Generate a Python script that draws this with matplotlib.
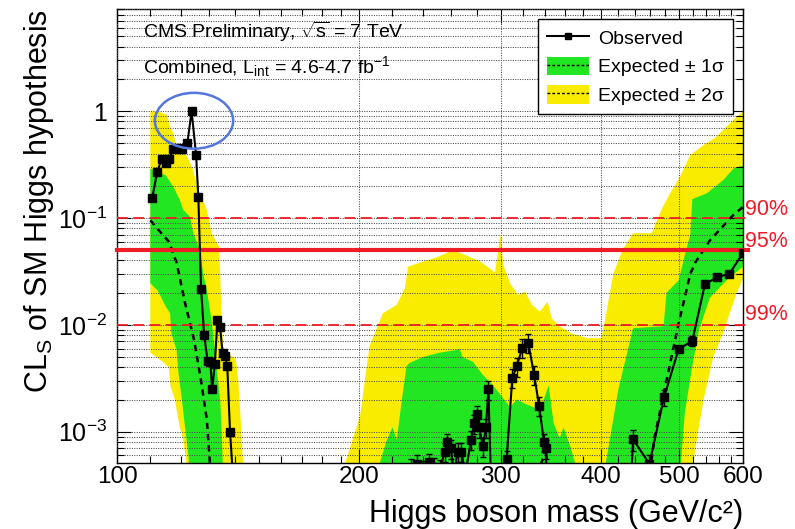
import numpy as np
import matplotlib
matplotlib.use('Agg')
import matplotlib.pyplot as plt
from matplotlib.lines import Line2D
from matplotlib.patches import Patch, Ellipse
from matplotlib.ticker import FixedLocator, NullFormatter, LogLocator, FuncFormatter

plt.rcParams['font.family'] = ['Liberation Sans', 'DejaVu Sans']
plt.rcParams['mathtext.fontset'] = 'custom'
plt.rcParams['mathtext.rm'] = 'Liberation Sans'
plt.rcParams['mathtext.it'] = 'Liberation Sans:italic'
plt.rcParams['mathtext.bf'] = 'Liberation Sans:bold'
plt.rcParams['mathtext.default'] = 'regular'

# ---------------- data ----------------
# observed CLs
m_obs = [110.6, 112.2, 113.7, 115.0, 116.0, 117.5, 119.0, 120.3, 122.3, 123.8, 125.4, 126.2,
         127.2, 128.3, 129.6, 130.6, 131.3, 132.3, 133.3, 134.3, 135.3, 136.3, 137.1, 138.2, 141.0,
         228.0, 232.0, 236.0, 240.0, 244.0, 248.0, 252.0, 255.5, 257.5, 260.0, 262.5, 265.0, 268.0,
         271.0, 275.5, 278.0, 280.0, 282.0, 285.0, 287.5, 289.5, 293.0, 302.0, 305.0, 310.0, 314.0,
         319.0, 324.5, 330.0, 334.7, 339.5, 341.0, 345.0,
         432.0, 438.0, 459.0, 478.6, 499.0, 519.0, 538.0, 557.5, 577.0, 600.0]
cls_obs = [0.153, 0.271, 0.36, 0.33, 0.36, 0.438, 0.45, 0.438, 0.50, 1.0, 0.388, 0.158,
           0.0217, 0.0081, 0.0046, 0.0045, 0.0025, 0.0043, 0.011, 0.0096, 0.0054, 0.0051, 0.0041, 0.00099, 1e-4,
           1e-4, 4.6e-4, 5.0e-4, 4.4e-4, 5.2e-4, 4.7e-4, 4.5e-4, 6.5e-4, 8.0e-4, 7.0e-4, 4.0e-4, 6.5e-4, 6.5e-4,
           4.0e-4, 8.4e-4, 1.2e-3, 1.45e-3, 1.1e-3, 7.3e-4, 1.1e-3, 2.5e-3, 1e-4, 1e-4, 5.5e-4, 3.2e-3, 4.1e-3,
           6.1e-3, 6.8e-3, 3.4e-3, 1.75e-3, 8.0e-4, 7.0e-4, 1e-4,
           1e-4, 8.5e-4, 5.0e-4, 2.1e-3, 5.9e-3, 7.1e-3, 0.024, 0.028, 0.030, 0.047]
err_obs = [0.0] * 25 + [0.2] * 33 + [0.0, 0.22, 0.2, 0.18, 0.06, 0.1, 0.05, 0.04, 0.05, 0.03]

# expected median
m_exp = [110, 113, 116, 118.6, 121.5, 124.7, 127.2, 129.3, 130.5, 132,
         225, 232, 238, 244, 250, 256, 330, 338, 341, 344, 350,
         455, 461, 466, 482, 499, 516, 523, 546, 584, 600]
cls_exp = [0.095, 0.075, 0.06, 0.038, 0.016, 0.0072, 0.003, 0.0013, 5e-4, 2e-4,
           3e-4, 4.8e-4, 4.2e-4, 5.0e-4, 4.5e-4, 3e-4, 3e-4, 5.5e-4, 7e-4, 4e-4, 2e-4,
           2e-4, 5e-4, 9e-4, 0.003, 0.0103, 0.03, 0.038, 0.062, 0.107, 0.127]

# +/- 2 sigma band edges
m_2s_up = [110, 113, 115.5, 116.4, 117.5, 118.6, 121.8, 124, 126.2, 129.3, 131.1, 133.9, 134.3,
           134.9, 135.5, 136.8, 140.5, 141.5, 142.2, 143.6, 144.5, 189, 191, 192, 200.5, 206, 214,
           222.7, 228, 230, 240, 250, 262, 267, 271, 283, 295, 299, 300, 302, 308, 315, 321.5, 328,
           335.6, 343, 347, 355, 366, 384, 400, 405, 410, 414, 425, 438, 462, 475, 487, 501, 516,
           536, 556, 578, 600]
cls_2s_up = [1.0, 0.98, 0.92, 0.71, 0.62, 0.46, 0.39, 0.30, 0.183, 0.119, 0.072, 0.054, 0.033,
             0.012, 0.0063, 0.0055, 0.0048, 0.003, 0.0017, 4.6e-4, 1e-4, 1e-4, 4e-4, 5e-4, 0.0014, 0.0063, 0.0128,
             0.0154, 0.022, 0.035, 0.039, 0.043, 0.05, 0.047, 0.045, 0.039, 0.031, 0.062, 0.07, 0.037, 0.0245, 0.019, 0.0205, 0.0154,
             0.0133, 0.0165, 0.0115, 0.0097, 0.0084, 0.0075, 0.0075, 0.012, 0.02, 0.03, 0.05, 0.072, 0.072, 0.119, 0.17, 0.243, 0.388,
             0.48, 0.575, 0.77, 1.0]
m_2s_lo = [110, 114, 116, 116.5, 118, 119.7, 120.9, 122.5, 124, 515, 518, 525, 536, 551, 567, 588, 600]
cls_2s_lo = [0.0055, 0.0045, 0.004, 0.0027, 0.002, 0.0011, 8.4e-4, 4e-4, 1e-5, 1e-5, 4e-4, 8e-4, 0.002,
             0.005, 0.0085, 0.019, 0.027]

# +/- 1 sigma band edges
m_1s_up = [110, 115, 117.5, 119.7, 120.9, 123.2, 124.4, 126.8, 128, 129.3, 131.1, 132.6, 134.4, 135,
           135.5, 136.5, 210, 212, 216, 220, 222.7, 226, 229, 231, 240, 252, 264, 266.5, 269, 277, 285,
           293.6, 308, 314, 323, 335.6, 344, 349, 355, 359, 366, 370, 375, 380, 402, 404, 420, 438, 478,
           482, 499, 508, 516, 519, 541, 567, 584, 600]
cls_1s_up = [0.29, 0.25, 0.196, 0.147, 0.119, 0.103, 0.072, 0.05, 0.03, 0.0213, 0.011, 0.005, 0.0019, 9e-4,
             4e-4, 1e-4, 1e-4, 5e-4, 8e-4, 0.0011, 8.4e-4, 0.002, 0.0041, 0.0044, 0.005, 0.0055, 0.0058, 0.006, 0.005, 0.0045, 0.0034,
             0.0027, 0.0017, 0.002, 0.0018, 0.0016, 0.0027, 0.0012, 8.7e-4, 0.0011, 7.3e-4, 5.5e-4, 4e-4, 1e-4, 1e-4, 4.5e-4, 0.0025, 0.0093, 0.0097,
             0.02, 0.026, 0.045, 0.07, 0.15, 0.17, 0.226, 0.29, 0.31]
m_1s_lo = [110, 112.3, 115, 116.4, 116.8, 118.6, 119.2, 120.3, 121.5, 122.6, 123.5, 500, 501, 508, 518,
           529, 546, 575, 600]
cls_1s_lo = [0.0245, 0.021, 0.0148, 0.0128, 0.0084, 0.0058, 0.0036, 0.0021, 0.0011, 6.3e-4, 3e-4, 1e-5,
             4e-4, 0.0015, 0.0038, 0.009, 0.018, 0.027, 0.035]

cl_levels = [0.1, 0.05, 0.01]
cl_labels = ['90%', '95%', '99%']

x_ticks = [100, 200, 300, 400, 500, 600]
y_ticks = [1e-3, 1e-2, 1e-1, 1]

# ---------------- style ----------------
YEL = '#f9ec00'
GRN = '#22e622'
RED = '#ee1c24'

fig = plt.figure(figsize=(7.95, 5.29), dpi=100)
ax = fig.add_axes([0.1472, 0.1248, 0.7874, 0.858])
ax.set_xscale('log')
ax.set_yscale('log')

def band(mu, yu, ml, yl):
    return (np.concatenate([np.asarray(mu, float), np.asarray(ml, float)[::-1]]),
            np.concatenate([np.asarray(yu, float), np.asarray(yl, float)[::-1]]))

bx, by = band(m_2s_up, cls_2s_up, m_2s_lo, cls_2s_lo)
ax.fill(bx, by, color=YEL, lw=0, zorder=1)
gx, gy = band(m_1s_up, cls_1s_up, m_1s_lo, cls_1s_lo)
ax.fill(gx, gy, color=GRN, lw=0, zorder=1.1)

ax.plot(m_exp, cls_exp, color='k', lw=1.8, ls=(0, (2.5, 2.0)), zorder=2)

ax.set_axisbelow(False)
ax.grid(True, which='both', axis='y', ls=(0, (1, 1.3)), color='0.3', lw=0.75)
ax.grid(True, which='major', axis='x', ls=(0, (1, 1.3)), color='0.3', lw=0.75)

styles = [dict(lw=1.3, ls=(0, (6, 3))), dict(lw=3.0, ls='-'), dict(lw=1.3, ls=(0, (6, 3)))]
for lev, st in zip(cl_levels, styles):
    ax.axhline(lev, xmin=0, xmax=1.008, color=RED, clip_on=False, zorder=3, **st)

m_o = np.asarray(m_obs)
c_o = np.asarray(cls_obs)
e_o = np.asarray(err_obs)
ax.errorbar(m_o, c_o, yerr=[c_o * e_o, c_o * e_o], fmt='-s', color='k', ms=5.5, lw=1.5,
            elinewidth=1.0, capsize=2, zorder=4)

ax.set_xlim(100, 600)
ax.set_ylim(5.1e-4, 9)

ax.xaxis.set_major_locator(FixedLocator(x_ticks))
ax.xaxis.set_major_formatter(FuncFormatter(lambda v, p: '%d' % round(v)))
minor_x = [v for v in list(range(110, 200, 10)) + list(range(220, 600, 20)) if v not in x_ticks]
ax.xaxis.set_minor_locator(FixedLocator(minor_x))
ax.xaxis.set_minor_formatter(NullFormatter())

def yfmt(v, p):
    e = int(round(np.log10(v)))
    return '1' if e == 0 else r'$10^{%d}$' % e
ax.yaxis.set_major_locator(FixedLocator(y_ticks))
ax.yaxis.set_major_formatter(FuncFormatter(yfmt))
ax.yaxis.set_minor_locator(LogLocator(base=10, subs=np.arange(2, 10)))
ax.yaxis.set_minor_formatter(NullFormatter())

ax.tick_params(which='both', direction='in', top=True, right=True, color='k')
ax.tick_params(which='major', length=10, width=0.8)
ax.tick_params(which='minor', length=5, width=0.8)
ax.tick_params(axis='x', which='major', pad=2.5, labelsize=17.5)
ax.tick_params(axis='y', which='major', pad=7, labelsize=18)
for s in ax.spines.values():
    s.set_linewidth(1.0)

ax.set_xlabel('Higgs boson mass (GeV/c²)', fontsize=22, loc='right')
ax.xaxis.label.set_va('baseline')
ax.xaxis.set_label_coords(1.0, -0.129)
ax.set_ylabel('CL$_{S}$ of SM Higgs hypothesis', fontsize=22, loc='top')
ax.yaxis.set_label_coords(-0.097, 1.0)

ax.text(0.0415, 0.936, r'CMS Preliminary, $\sqrt{s}$ = 7 TeV', transform=ax.transAxes,
        fontsize=14, va='baseline', ha='left')
ax.text(0.0415, 0.859, r'Combined, L$_{int}$ = 4.6-4.7 fb$^{-1}$', transform=ax.transAxes,
        fontsize=14, va='baseline', ha='left')

for lab, yy in zip(cl_labels, [0.546, 0.476, 0.315]):
    ax.text(1.003, yy, lab, transform=ax.transAxes, color=RED, fontsize=15.5,
            va='baseline', ha='left', clip_on=False)

h_obs = Line2D([], [], color='k', marker='s', ms=5, lw=1.5)
h1 = (Patch(facecolor=GRN, edgecolor='none'), Line2D([], [], color='k', lw=1.0, ls=(0, (2, 1.5))))
h2 = (Patch(facecolor=YEL, edgecolor='none'), Line2D([], [], color='k', lw=1.0, ls=(0, (2, 1.5))))
leg = ax.legend([h_obs, h1, h2], ['Observed', 'Expected ± 1σ', 'Expected ± 2σ'],
                loc='upper right', bbox_to_anchor=(0.984, 0.978), fontsize=14, frameon=True,
                fancybox=False, edgecolor='k', framealpha=1, borderpad=0.45, handlelength=2.2,
                handleheight=1.1, handletextpad=0.45, labelspacing=0.45, borderaxespad=0)
leg.get_frame().set_linewidth(1.0)
leg.set_zorder(10)

ax.add_patch(Ellipse((0.123, 0.754), 0.125, 0.123, transform=ax.transAxes, fill=False,
                     edgecolor='#5577dd', lw=1.8, zorder=5))

fig.savefig('out.png', dpi=100)
